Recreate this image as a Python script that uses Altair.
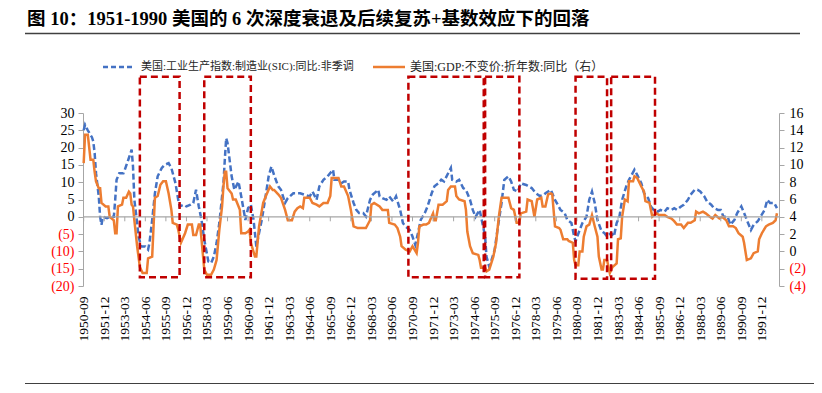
import altair as alt
import pandas as pd

# ---------------- data (month index: 0 = 1950-09, monthly steps) ----------------
TITLE = "图  10：1951-1990 美国的 6 次深度衰退及后续复苏+基数效应下的回落"
legend_blue = "美国:工业生产指数:制造业(SIC):同比:非季调"
legend_orange = "美国:GDP:不变价:折年数:同比（右）"

x_tick_labels = ["1950-09", "1951-12", "1953-03", "1954-06", "1955-09", "1956-12", "1958-03",
                 "1959-06", "1960-09", "1961-12", "1963-03", "1964-06", "1965-09", "1966-12",
                 "1968-03", "1969-06", "1970-09", "1971-12", "1973-03", "1974-06", "1975-09",
                 "1976-12", "1978-03", "1979-06", "1980-09", "1981-12", "1983-03", "1984-06",
                 "1985-09", "1986-12", "1988-03", "1989-06", "1990-09", "1991-12"]
left_ticks = [-20, -15, -10, -5, 0, 5, 10, 15, 20, 25, 30]
right_ticks = [-4, -2, 0, 2, 4, 6, 8, 10, 12, 14, 16]

blue_month = [0, 1, 3, 6, 7, 8, 9, 11, 12, 13, 14, 17, 19, 22, 23, 24, 26, 29, 30, 33, 35, 36, 37, 39,
              40, 42, 45, 47, 48, 50, 52, 54, 57, 59, 62, 64, 67, 69, 70, 73, 75, 78, 80, 82, 84, 86,
              88, 91, 93, 95, 97, 99, 102, 103, 104, 105, 108, 110, 113, 115, 118, 120, 122, 124,
              126, 127, 130, 132, 135, 137, 139, 142, 144, 147, 149, 153, 158, 161, 165, 167, 170,
              172, 175, 178, 182, 183, 186, 188, 190, 193, 194, 197, 199, 201, 204, 206, 209, 211,
              215, 216, 218, 221, 223, 226, 228, 231, 233, 235, 238, 240, 242, 244, 246, 249, 251,
              254, 256, 259, 261, 263, 266, 268, 269, 272, 274, 277, 279, 282, 284, 286, 289, 291,
              293, 294, 296, 297, 300, 302, 305, 307, 310, 312, 314, 317, 319, 323, 327, 330, 333,
              336, 337, 341, 344, 346, 348, 351, 353, 356, 358, 359, 362, 364, 367, 369, 371, 373,
              375, 378, 380, 382, 385, 387, 389, 391, 393, 396, 398, 402, 404, 407, 409, 412, 414,
              416, 419, 421, 424, 426, 429, 431, 433, 436, 438, 441, 443, 446, 448, 450, 453, 455,
              458, 460, 463, 465, 467, 470, 472, 475, 477, 480, 482, 484, 487, 489, 492, 494, 497,
              499, 501, 504, 506]
blue_value = [25, 26.6, 25, 23, 21.8, 18.4, 12.6, 5.9, 0, -2.3, 0, -0.4, 0, 0, 4.9, 10.7, 12.6, 12.6,
              13.6, 17, 19.4, 14.5, 4.9, -1.8, -5.7, -8.6, -8.6, -9.5, -7.6, -0.9, 6.8, 11.7, 14.1,
              15, 15.5, 14.1, 9.7, 4.9, 3, 3.5, 3, 3.5, 4, 7.8, 3, -0.9, -6.6, -12.9, -13.4, -11.5,
              -7.6, -1.8, 9.7, 16.5, 22.7, 21.3, 11.7, 7.8, 10.2, 5.9, -0.9, 2.5, 3.5, -0.9, -8.6,
              -6.6, -0.9, 4, 11.7, 14.5, 12, 8.8, 7.8, 4, 5.4, 6.8, 6.8, 6.4, 5.9, 7.3, 4.9, 8.8,
              10.7, 11.7, 13.6, 10.7, 10.7, 9.7, 10.2, 10.2, 7.8, 4, 2, 1.1, 1.1, 0.1, 4.9, 6.4,
              7.8, 5.9, 5.4, 4.9, 5.9, 4.4, 5.9, 2, -1.8, -2.8, -3.8, -5.7, -8.1, -4.7, -0.9, 1.1,
              3, 6.8, 8.8, 9.7, 10.7, 10.2, 12.6, 14.1, 10.7, 10.2, 10.7, 8.3, 7.8, 4.9, 2, 0, 2,
              -1.8, -5.7, -11.5, -14.4, -13.4, -9.5, -3.8, 4, 10.7, 11.7, 10.2, 7.8, 7.3, 9.7, 9.2,
              8.3, 6.8, 6.0, 6.4, 6.8, 7.8, 4.9, 3.5, 2, 1.1, -0.9, -1.8, -5.7, -7.1, -3.8, -1.8, 0,
              4.9, 7.3, 4, -0.9, -4.2, -4.7, -5.7, -4.7, -5.7, -1.8, 0, 4.9, 8.8, 10.7, 13.6, 12.1,
              9.7, 6.8, 5.4, 3, 2, 1.5, 2, 1.5, 2.5, 2, 2.5, 2, 3, 3.5, 4.9, 6.4, 7.8, 7.8, 7.3,
              5.9, 4.4, 3.5, 2.5, 2, 2, 0, 0, -2.3, -0.9, 1.1, 3, 1.1, -0.9, -3.8, -2.3, -1.3, 0,
              2, 4.9, 4, 4, 2.5]

gdp_month = [0, 1, 3, 5, 7, 8, 9, 11, 12, 13, 16, 18, 19, 22, 23, 24, 25, 28, 29, 31, 33, 34, 35, 36,
             37, 39, 41, 43, 46, 47, 50, 51, 52, 54, 56, 58, 60, 62, 64, 65, 68, 69, 71, 74, 76, 79,
             80, 82, 84, 85, 86, 88, 90, 93, 95, 97, 99, 101, 102, 103, 104, 105, 108, 109, 111,
             114, 115, 118, 120, 121, 122, 125, 126, 128, 131, 133, 136, 138, 139, 142, 144, 147,
             149, 152, 154, 156, 158, 160, 161, 165, 167, 170, 172, 175, 178, 180, 181, 186, 188,
             190, 193, 195, 197, 200, 204, 206, 209, 210, 212, 216, 218, 222, 223, 227, 229, 231,
             232, 235, 238, 240, 243, 244, 245, 248, 250, 252, 255, 256, 257, 259, 262, 265, 266,
             268, 271, 272, 274, 278, 279, 280, 282, 284, 288, 289, 290, 293, 294, 296, 299, 301,
             302, 303, 305, 310, 312, 314, 316, 318, 319, 323, 324, 327, 329, 331, 334, 335, 337,
             339, 341, 342, 344, 347, 348, 350, 353, 354, 357, 358, 359, 361, 362, 364, 365, 367,
             369, 371, 373, 375, 376, 378, 379, 380, 382, 384, 386, 389, 390, 392, 393, 395, 397,
             398, 401, 402, 404, 407, 409, 410, 413, 415, 418, 420, 424, 426, 429, 431, 433, 436,
             438, 441, 443, 446, 447, 449, 452, 454, 457, 459, 461, 464, 466, 469, 471, 474, 476,
             478, 481, 482, 484, 487, 489, 492, 493, 495, 498, 500, 503, 505, 506]
gdp_value = [10.2, 13.5, 13.5, 10.6, 10.6, 9.2, 8.1, 7.3, 7.3, 5.6, 5.2, 5.2, 4, 3.6, 2.1, 2.1, 5.2,
             5.4, 6.2, 6.2, 6.9, 6.7, 5.4, 5.2, 3.6, 0.6, -1.8, -2.5, -2.5, -0.8, -0.6, 2.9, 6.2,
             6.4, 7.7, 8.1, 8.1, 6.7, 4.8, 3.3, 3.1, 2.5, 1, 2.1, 3.1, 3.1, 1.9, 1.9, 3.1, 3.1, 1.4,
             -2.1, -2.7, -2.7, -2.1, -1, 2.5, 5.2, 7.5, 9.2, 9.2, 7.3, 6.7, 6, 6, 4.8, 2.1, 2.1,
             2.3, 2.5, 1, -0.6, -0.6, 2.9, 5.6, 6.4, 7.5, 7.1, 7.1, 6.6, 6.2, 4.8, 3.6, 3.6, 4.6,
             5, 5.2, 5.0, 6.2, 6.2, 5.6, 5.4, 5.2, 5.6, 5.6, 6.4, 8.5, 8.5, 7.5, 7.5, 6.4, 4.8,
             2.9, 2.7, 2.7, 2.7, 3.6, 5.4, 5.6, 5.2, 4.8, 4.8, 3.3, 3.1, 2.7, 1.7, 0.6, 0.2, 0,
             0.6, -0.2, 1, 2.9, 3.1, 3.1, 3.3, 4.4, 3.6, 3.6, 5.4, 5.4, 5.8, 7.1, 7.5, 7.5, 6.4, 6,
             5.8, 4.8, 2.3, 0.6, -0.2, -0.4, -1, -1.9, -1.9, -2.3, -2.1, -0.6, 1, 2.5, 4, 6.2, 6.2,
             5, 4.8, 3.3, 3.3, 4.4, 4.6, 6, 5.8, 4, 6, 6.2, 5.2, 5.2, 6.6, 6.7, 6.6, 2.9, 2.7, 2.5,
             1.4, 1.4, 1.2, 1, -1, -1.6, -1.6, 0, 0, 1.7, 2.9, 3.1, 4.2, 2.9, 1.7, -0.6, -2.1,
             -2.1, -1, -1, -2.5, -1.8, -1.4, 1.4, 1.5, 4, 6, 5.8, 8.1, 8.1, 8.7, 8.5, 7.5, 6.9,
             5.8, 5.6, 4, 4.4, 4.2, 4.2, 4, 3.8, 3.5, 3.1, 3.1, 2.7, 3.3, 3.3, 3.6, 4.6, 4.4, 4.6,
             4.4, 4, 3.8, 4.2, 3.8, 4, 3.6, 2.9, 2.9, 2.7, 2.1, 1.7, 1, -1, -0.8, -0.2, 0, 1.4,
             2.1, 2.9, 3.1, 3.3, 3.6, 4.4]

# recession boxes (months since 1950-09, y in right-axis units)
box_start = [41, 88, 237, 293, 359, 385]
box_end = [70, 122, 292, 318, 382, 417]
box_top = [20.2, 20.2, 20.2, 20.2, 20.2, 20.2]
box_bottom = [-3.0, -3.0, -3.0, -3.0, -3.15, -3.15]

# ---------------- chart ----------------
W, H = 696, 173
SERIF = "Liberation Serif, Noto Sans CJK SC"
BLUE = "#4472C4"
ORANGE = "#ED7D31"
RED = "#C00000"
GRAY = "#A6A6A6"

blue_df = pd.DataFrame({"m": blue_month, "v": blue_value})
gdp_df = pd.DataFrame({"m": gdp_month, "r": gdp_value})
box_df = pd.DataFrame({"s": box_start, "e": box_end, "t": box_top, "b": box_bottom})
tick_pos = [15 * i for i in range(len(x_tick_labels))]
tick_df = pd.DataFrame({"m": tick_pos, "y0": [0] * len(tick_pos), "y1": [-1.3] * len(tick_pos)})
one = pd.DataFrame({"a": [0]})

x_scale = alt.Scale(domain=[-0.5, 507.5], nice=False, zero=False)
yl_scale = alt.Scale(domain=[-20, 30], nice=False, zero=False)
yr_scale = alt.Scale(domain=[-4, 16], nice=False, zero=False)

label_expr = "[" + ",".join("'%s'" % s for s in x_tick_labels) + "][round(datum.value/15)]"
x_axis = alt.Axis(values=tick_pos, labelExpr=label_expr, labelAngle=270, labelFont=SERIF,
                  labelFontSize=13.5, labelColor="#000000", labelPadding=10, domain=False,
                  ticks=False, grid=False, title=None, labelOverlap=False, labelBound=False,
                  labelFlush=False)

neg_expr = "datum.value < 0 ? '(' + abs(datum.value) + ')' : datum.label"
neg_color = {"condition": {"test": "datum.value < 0", "value": "#FF0000"}, "value": "#000000"}

left_axis = alt.Axis(values=left_ticks, labelExpr=neg_expr, labelColor=neg_color, labelFont=SERIF,
                     labelFontSize=14, domainColor=GRAY, tickColor=GRAY, tickSize=5,
                     labelPadding=4, grid=False, title=None, labelOverlap=False)
right_axis = alt.Axis(orient="right", values=right_ticks, labelExpr=neg_expr, labelColor=neg_color,
                      labelFont=SERIF, labelFontSize=14, domainColor=GRAY, tickColor=GRAY,
                      tickSize=5, labelPadding=5, grid=False, title=None, labelOverlap=False)


def X(field):
    return alt.X(field, scale=x_scale, axis=x_axis)


blue = alt.Chart(blue_df).mark_line(color=BLUE, strokeWidth=2.5, strokeDash=[6, 3]).encode(
    x=X("m:Q"), y=alt.Y("v:Q", scale=yl_scale, axis=left_axis))
orange = alt.Chart(gdp_df).mark_line(color=ORANGE, strokeWidth=2.5).encode(
    x=X("m:Q"), y=alt.Y("r:Q", scale=yr_scale, axis=right_axis))
zero_rule = alt.Chart(pd.DataFrame({"y": [0]})).mark_rule(color=GRAY, strokeWidth=1.2).encode(
    y=alt.Y("y:Q", scale=yl_scale, axis=None))
ticks = alt.Chart(tick_df).mark_rule(color=GRAY, strokeWidth=1).encode(
    x=X("m:Q"), y=alt.Y("y0:Q", scale=yl_scale, axis=None), y2="y1:Q")
boxes = alt.Chart(box_df).mark_rect(fillOpacity=0, stroke=RED, strokeWidth=2.5,
                                    strokeDash=[7, 4]).encode(
    x=X("s:Q"), x2="e:Q", y=alt.Y("t:Q", scale=yr_scale, axis=None), y2="b:Q")

title_txt = alt.Chart(one).mark_text(align="left", baseline="middle", font=SERIF, fontSize=18.5,
                                     fontWeight="bold", color="#000000", text=TITLE).encode(
    x=alt.value(-56), y=alt.value(-94))
top_line = alt.Chart(one).mark_rule(color="#404040", strokeWidth=1.5).encode(
    x=alt.value(-58), x2=alt.value(717), y=alt.value(-79.5))
bottom_line = alt.Chart(one).mark_rule(color="#404040", strokeWidth=2).encode(
    x=alt.value(-58), x2=alt.value(739), y=alt.value(271))
leg_blue_line = alt.Chart(one).mark_rule(color=BLUE, strokeWidth=2.5, strokeDash=[5, 3]).encode(
    x=alt.value(20), x2=alt.value(52), y=alt.value(-46))
leg_blue_txt = alt.Chart(one).mark_text(align="left", baseline="middle", font=SERIF, fontSize=11,
                                        color="#262626", text=legend_blue).encode(
    x=alt.value(58), y=alt.value(-46))
leg_or_line = alt.Chart(one).mark_rule(color=ORANGE, strokeWidth=2.5).encode(
    x=alt.value(290), x2=alt.value(322), y=alt.value(-46))
leg_or_txt = alt.Chart(one).mark_text(align="left", baseline="middle", font=SERIF, fontSize=12,
                                      color="#262626", text=legend_orange).encode(
    x=alt.value(327), y=alt.value(-46))

chart = alt.layer(
    blue, orange, zero_rule, ticks, boxes,
    title_txt, top_line, bottom_line, leg_blue_line, leg_blue_txt, leg_or_line, leg_or_txt,
).resolve_scale(y="independent").properties(
    width=W, height=H,
    autosize=alt.AutoSizeParams(type="none"),
    padding={"left": 75, "top": 105, "right": 35, "bottom": 98},
).configure_view(stroke=None)

chart.save("out.html", embed_options={"renderer": "svg", "actions": False})
